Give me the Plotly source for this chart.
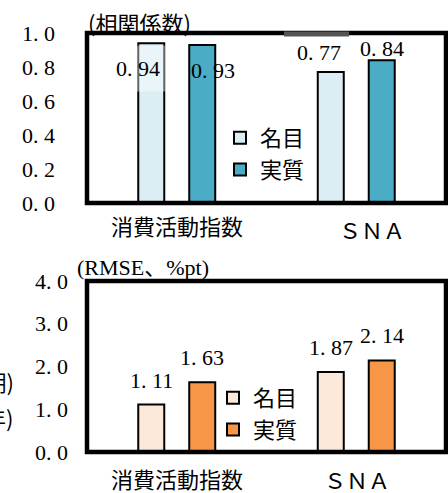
import plotly.graph_objects as go

# ---- data ----
categories = ["消費活動指数", "ＳＮＡ"]
series_names = ["名目", "実質"]

corr_nominal = [0.94, 0.77]
corr_real = [0.93, 0.84]

rmse_nominal = [1.11, 1.87]
rmse_real = [1.63, 2.14]

corr_ticks = [0.0, 0.2, 0.4, 0.6, 0.8, 1.0]
corr_ticktext = ["0. 0", "0. 2", "0. 4", "0. 6", "0. 8", "1. 0"]
rmse_ticks = [0.0, 1.0, 2.0, 3.0, 4.0]
rmse_ticktext = ["0. 0", "1. 0", "2. 0", "3. 0", "4. 0"]

corr_title = "(相関係数)"
rmse_title = "(RMSE、%pt)"
side_notes = ["(前年比、四半期)", "(2003～2019年)"]

# ---- styling ----
W, H = 448, 493
NUM_FONT = "Liberation Serif, Noto Sans CJK JP, serif"
JP_FONT = "Noto Sans CJK JP, Liberation Serif, sans-serif"
BLUE_LIGHT, BLUE = "#DAEEF3", "#4BACC6"
ORANGE_LIGHT, ORANGE = "#FDE9D9", "#F79646"

x_dom = [87 / W, 446 / W]
top_dom = [1 - 203 / H, 1 - 33 / H]
bot_dom = [1 - 452 / H, 1 - 281 / H]

BAR_OFF = 25.5  # half the distance between paired bar centres, px


def fmt(v):
    return f"{v:.2f}".replace(".", ". ")


def bar(y, name, color, xa, ya, leg):
    return go.Bar(x=categories, y=y, name=name, xaxis=xa, yaxis=ya,
                  legend=leg,
                  marker_color=color,
                  marker_line_color="#000000",
                  marker_line_width=2)


fig = go.Figure()
fig.add_trace(bar(corr_nominal, series_names[0], BLUE_LIGHT, "x", "y", "legend"))
fig.add_trace(bar(corr_real, series_names[1], BLUE, "x", "y", "legend"))
fig.add_trace(bar(rmse_nominal, series_names[0], ORANGE_LIGHT, "x2", "y2", "legend2"))
fig.add_trace(bar(rmse_real, series_names[1], ORANGE, "x2", "y2", "legend2"))

annotations = []

# value labels: (values, axis pair, side, per-label shifts)
label_specs = [
    (corr_nominal, "x", "y", -1, [(-13, -28), (-12, 20)]),
    (corr_real, "x", "y", 1, [(11, -26), (0, 12)]),
    (rmse_nominal, "x2", "y2", -1, [(0, 24), (0, 25)]),
    (rmse_real, "x2", "y2", 1, [(0, 25), (0, 25)]),
]
for vals, xr, yr, side, shifts in label_specs:
    for cat, v, (dx, dy) in zip(categories, vals, shifts):
        annotations.append(dict(
            x=cat, y=v, xref=xr, yref=yr, text=fmt(v), showarrow=False,
            xshift=side * BAR_OFF + dx, yshift=dy, yanchor="middle",
            font=dict(family=NUM_FONT, size=22, color="black")))

# translucent label box over the first bar
annotations[0].update(bgcolor="rgba(255,255,255,0.4)", width=54, height=45,
                      borderpad=0, yshift=-25)

# category labels under each panel
for xr, yr, shifts in [("x", "y", [(0, -22), (16, -26)]),
                       ("x2", "y2", [(0, -26), (1, -27)])]:
    for cat, (dx, dy) in zip(categories, shifts):
        annotations.append(dict(
            x=cat, y=0, xref=xr, yref=yr + " domain", text=cat,
            showarrow=False, xshift=dx, yshift=dy, yanchor="middle",
            font=dict(family=JP_FONT, size=22, color="black")))

# panel unit titles
annotations.append(dict(x=86 / W, y=1 - 22 / H, xref="paper", yref="paper",
                        text=corr_title, showarrow=False, xanchor="left",
                        yanchor="middle",
                        font=dict(family=JP_FONT, size=22, color="black")))
annotations.append(dict(x=75 / W, y=1 - 267 / H, xref="paper", yref="paper",
                        text=rmse_title, showarrow=False, xanchor="left",
                        yanchor="middle",
                        font=dict(family=NUM_FONT, size=22, color="black")))

# notes running off the left edge
for txt, ypx in zip(side_notes, [381, 417]):
    annotations.append(dict(x=16 / W, y=1 - ypx / H, xref="paper",
                            yref="paper", text=txt, showarrow=False,
                            xanchor="right", yanchor="middle",
                            font=dict(family=JP_FONT, size=22, color="black")))

shapes = []
for yr in ["y", "y2"]:
    xr = "x" if yr == "y" else "x2"
    shapes.append(dict(type="rect", xref=xr + " domain", yref=yr + " domain",
                       x0=0, x1=1, y0=0, y1=1,
                       line=dict(color="black", width=4.5),
                       fillcolor="rgba(0,0,0,0)", layer="above"))
# grey stretch on the upper frame of the first panel
shapes.append(dict(type="rect", xref="paper", yref="paper",
                   x0=284 / W, x1=349 / W, y0=1 - 36.5 / H, y1=1 - 31.5 / H,
                   fillcolor="#555555", line=dict(width=0), layer="above"))

axis_common = dict(showgrid=False, zeroline=False, showline=False,
                   ticks="", fixedrange=True, automargin=False)

fig.update_layout(
    width=W, height=H,
    margin=dict(l=0, r=0, t=0, b=0, autoexpand=False),
    paper_bgcolor="white", plot_bgcolor="white",
    barmode="group", bargap=0.432, bargroupgap=0.49,
    showlegend=True,
    xaxis=dict(domain=x_dom, anchor="y", showticklabels=False,
               range=[-0.5, 1.5], **axis_common),
    yaxis=dict(domain=top_dom, anchor="x", range=[0, 1],
               tickvals=corr_ticks, ticktext=corr_ticktext,
               ticklabelstandoff=31,
               tickfont=dict(family=NUM_FONT, size=22, color="black"),
               **axis_common),
    xaxis2=dict(domain=x_dom, anchor="y2", showticklabels=False,
                range=[-0.5, 1.5], **axis_common),
    yaxis2=dict(domain=bot_dom, anchor="x2", range=[0, 4],
                tickvals=rmse_ticks, ticktext=rmse_ticktext,
                ticklabelstandoff=18,
                tickfont=dict(family=NUM_FONT, size=22, color="black"),
                **axis_common),
    legend=dict(x=220 / W, y=1 - 117 / H, xanchor="left", yanchor="top",
                bgcolor="rgba(0,0,0,0)", tracegroupgap=8,
                font=dict(family=JP_FONT, size=22, color="black")),
    legend2=dict(x=213 / W, y=1 - 377 / H, xanchor="left", yanchor="top",
                 bgcolor="rgba(0,0,0,0)", tracegroupgap=7,
                 font=dict(family=JP_FONT, size=22, color="black")),
    annotations=annotations,
    shapes=shapes,
)

fig.write_html("out.html")
